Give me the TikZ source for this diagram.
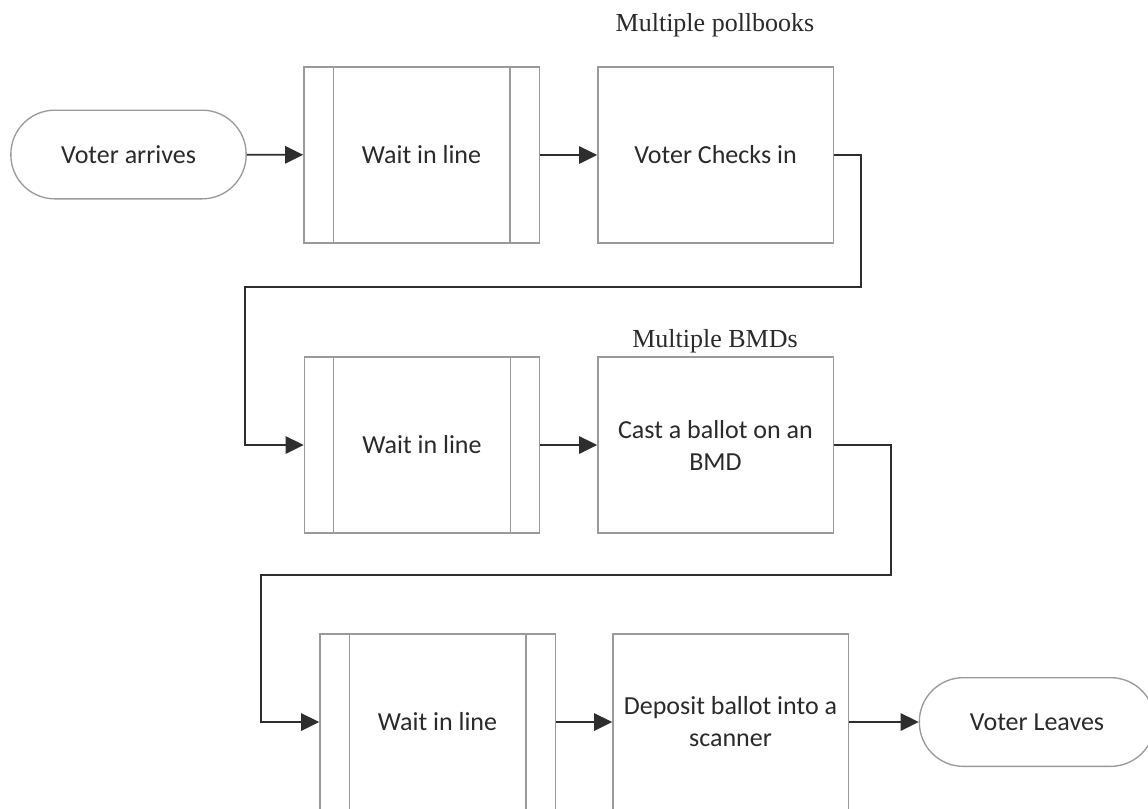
\documentclass[tikz,border=0pt]{standalone}
\usepackage{fontspec}
\setmainfont{Carlito}
\newfontfamily\labelfont{Liberation Serif}
\usetikzlibrary{arrows.meta}
\definecolor{boxgray}{HTML}{9A9A9A}
\definecolor{txtgray}{HTML}{2A2A2A}
\definecolor{linegray}{HTML}{2E2E2E}
\tikzset{
  px/.style={x=0.75pt,y=-0.75pt},
  procbox/.style={draw=boxgray,line width=1pt,fill=white,minimum width=176.5pt,minimum height=132pt,
    inner sep=0pt,align=center,text=txtgray,font=\fontsize{19.5}{24}\selectfont},
  termbox/.style={draw=boxgray,line width=1pt,rounded corners=33pt,minimum width=176.5pt,minimum height=66.5pt,
    inner sep=0pt,align=center,text=txtgray,font=\fontsize{19.5}{24}\selectfont},
  toplabel/.style={text=txtgray,font=\labelfont\fontsize{19.5}{22}\selectfont,inner sep=0pt},
  flow/.style={draw=linegray,line width=1.3pt,-{Triangle[length=13.5pt,width=13pt]}},
}
\newcommand{\waitlines}[1]{%
  \draw[boxgray,line width=1pt] ([xshift=22.5pt]#1.north west) -- ([xshift=22.5pt]#1.south west);
  \draw[boxgray,line width=1pt] ([xshift=-22.5pt]#1.north east) -- ([xshift=-22.5pt]#1.south east);
}
\begin{document}
\begin{tikzpicture}[px]
\useasboundingbox[fill=white] (0,0) rectangle (1148,808);
% row 1
\node[termbox] (arr) at (128.5,154.5) {Voter arrives};
\node[procbox] (w1) at (421.5,155) {Wait in line};
\waitlines{w1}
\node[procbox] (c1) at (715.5,155) {Voter Checks in};
\node[toplabel] (l1) at (715,25) {Multiple pollbooks};
% row 2
\node[procbox] (w2) at (422,445) {Wait in line};
\waitlines{w2}
\node[procbox] (c2) at (715.5,445) {Cast a ballot on an\\BMD};
\node[toplabel] (l2) at (715,341) {Multiple BMDs};
% row 3
\node[procbox] (w3) at (437.5,722) {Wait in line};
\waitlines{w3}
\node[procbox] (d3) at (730.5,722) {Deposit ballot into a\\scanner};
\node[termbox] (lv) at (1037,722) {Voter Leaves};
% connectors
\draw[flow] (arr) -- (w1);
\draw[flow] (w1) -- (c1);
\coordinate (a1) at (861,155);
\coordinate (a2) at (861,287);
\coordinate (a3) at (245,287);
\coordinate (a4) at (245,445);
\draw[flow] (c1.east) -- (a1) -- (a2) -- (a3) -- (a4) -- (w2.west);
\draw[flow] (w2) -- (c2);
\coordinate (b1) at (891,445);
\coordinate (b2) at (891,575);
\coordinate (b3) at (261,575);
\coordinate (b4) at (261,722);
\draw[flow] (c2.east) -- (b1) -- (b2) -- (b3) -- (b4) -- (w3.west);
\draw[flow] (w3) -- (d3);
\draw[flow] (d3) -- (lv);
\end{tikzpicture}
\end{document}
